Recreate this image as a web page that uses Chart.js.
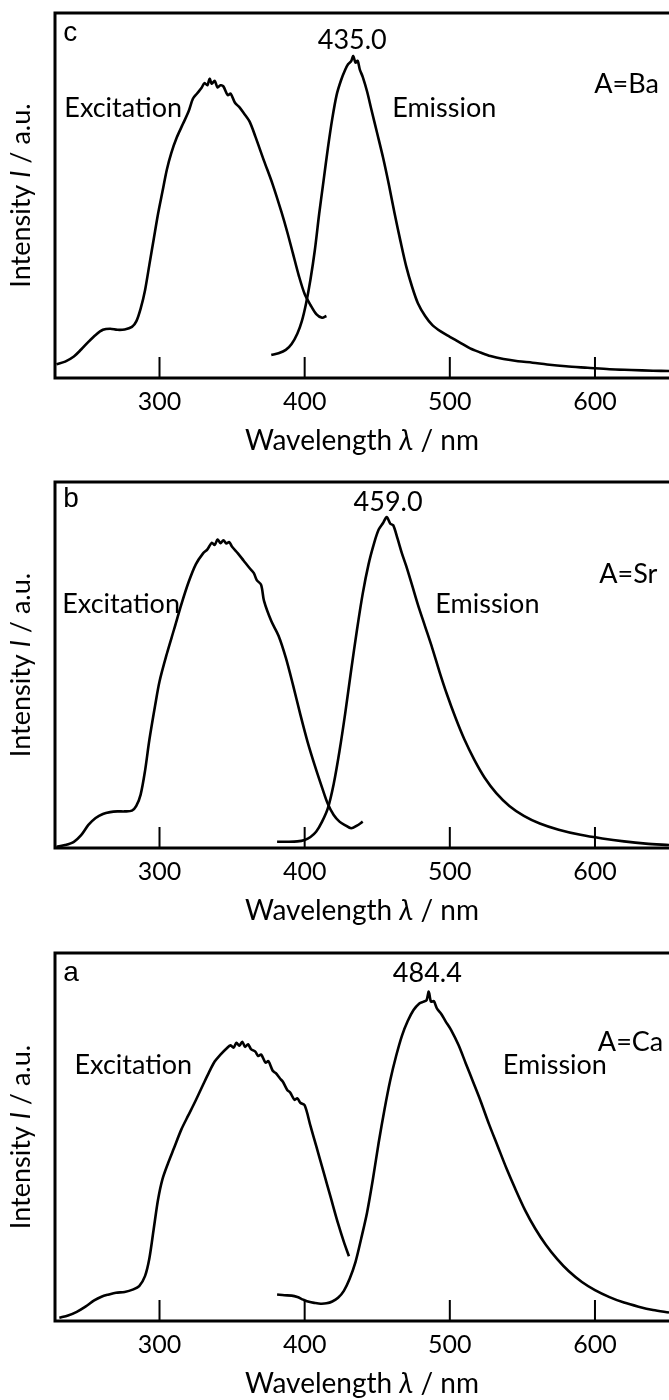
<!DOCTYPE html>
<html>
<head>
<meta charset="utf-8">
<title>Excitation and emission spectra</title>
<script src="https://cdn.jsdelivr.net/npm/chart.js@4/dist/chart.umd.min.js"></script>
<style>
  body { margin: 0; background: #fff; }
  canvas { display: block; }
</style>
</head>
<body>
<canvas id="panelC" width="669" height="470"></canvas>
<canvas id="panelB" width="669" height="470"></canvas>
<canvas id="panelA" width="669" height="460"></canvas>
<script>
// x axis ticks (nm)
const tickValues = [300, 400, 500, 600];

// A=Ba (panel c)
const baExcWl = [229, 235, 241, 246, 251, 256, 261, 266, 271, 276, 281, 284, 287, 290, 293, 296, 299, 302, 305, 308, 312, 316, 320, 323, 326, 329, 331, 333, 334.5, 336, 338, 340, 342, 344, 347, 349, 352, 355, 358, 362, 366, 372, 378, 384, 388, 392, 396, 400, 404, 408, 412, 415];
const baExcI = [3.8, 4.5, 5.9, 7.8, 9.9, 11.8, 13.2, 13.5, 13.2, 13.3, 14, 15.5, 19, 24, 31, 38, 45, 51, 57, 61.5, 66, 69.5, 73, 76.5, 78, 79.5, 80.8, 80.2, 82, 80.6, 81.4, 79.6, 80.2, 79.9, 77.5, 77.9, 75.4, 74.2, 72.6, 70.3, 66.2, 59.5, 53, 45.5, 40, 34, 28, 23, 20, 17.5, 16.5, 17];
const baEmWl = [377, 382, 387, 391, 395, 398, 401, 404, 407, 410, 413, 416, 419, 422, 425, 428, 430, 432, 433.5, 435, 436.5, 438, 440, 443, 446, 450, 454, 458, 462, 466, 470, 474, 478, 483, 488, 494, 500, 507, 514, 521, 528, 537, 547, 557, 567, 580, 595, 610, 625, 640, 651];
const baEmI = [6.3, 6.8, 7.7, 9.3, 12.2, 15.5, 20.5, 27, 35, 45, 54, 63, 71, 77.5, 81.5, 84.5, 86, 86.8, 88.2, 86.4, 86.9, 84.5, 82.5, 78.5, 73.5, 67, 60.4, 53, 45, 37.5, 30.5, 25, 20.5, 17, 14.5, 12.7, 11.3, 9.7, 8.1, 7, 6, 5.2, 4.6, 4.2, 3.7, 3.2, 2.8, 2.4, 2.2, 2, 1.9];

// A=Sr (panel b)
const srExcWl = [229, 235, 241, 246, 251, 256, 261, 266, 271, 276, 281, 284, 287, 290, 293, 297, 300, 305, 310, 315, 320, 325, 330, 333, 336, 338, 340, 342, 344, 346, 348, 350, 354, 358, 362, 365, 367, 370, 372, 377, 382, 387, 392, 397, 402, 407, 412, 416, 420, 424, 428, 432, 436, 440];
const srExcI = [0.3, 0.8, 1.7, 3.5, 6.3, 8.2, 9.3, 9.8, 10, 10, 10.2, 11.5, 14.6, 21, 29.5, 39, 45.5, 53, 59.7, 66.5, 72.6, 77.5, 80.5, 81.6, 83.4, 82.8, 84.3, 83.3, 84.1, 83.2, 83.6, 82.3, 80.5, 78.5, 76.5, 75.1, 73.2, 71.9, 67.5, 62, 58, 52, 44.5, 36.5, 29, 22.5, 16.5, 12, 9, 7.2, 6.2, 5.4, 6.1, 7.2];
const srEmWl = [381, 388, 395, 400, 404, 408, 412, 416, 420, 424, 428, 432, 436, 440, 444, 448, 451, 454, 456.5, 459, 461, 464, 467, 470, 474, 478, 483, 488, 493, 498, 504, 510, 517, 524, 532, 541, 551, 562, 575, 590, 605, 620, 635, 651];
const srEmI = [1.7, 1.7, 1.8, 2.2, 3, 4.5, 7.2, 10.9, 17.5, 26.5, 37, 48.5, 59.5, 69.5, 77.5, 83.5, 87, 88.8, 90.4, 88.6, 88.2, 84.5, 80.5, 77, 71.8, 66.5, 60.5, 54.5, 48, 42, 35.5, 29.7, 24, 19.2, 15, 11.5, 8.8, 6.7, 5, 3.6, 2.6, 1.8, 1.2, 0.8];

// A=Ca (panel a)
const caExcWl = [231, 237, 243, 249, 255, 260, 265, 270, 276, 282, 286, 290, 293, 296, 299, 302, 306, 310, 315, 320, 325, 330, 334, 338, 342, 346, 349, 351, 353, 355, 357, 359, 361, 363, 366, 368, 370, 373, 375, 378, 380, 383, 385, 388, 390, 393, 395, 397, 400, 404, 408, 413, 418, 423, 427, 430.5];
const caExcI = [0.9, 1.5, 2.5, 3.9, 5.6, 6.6, 7.2, 7.7, 7.9, 8.6, 9.5, 12.2, 17, 25, 33, 38.5, 43, 47, 52, 56, 60, 64.2, 67.5, 70.5, 72.4, 74, 74.9, 74.3, 75.6, 74.8, 75.9, 74.5, 75.2, 73.9, 73.2, 72, 72.4, 70.2, 70.6, 68, 67.4, 65.9, 65, 62.8, 62.1, 60.1, 60.5, 59.3, 58.6, 53, 47.5, 40.5, 33.5, 26.5, 21.5, 17.6];
const caEmWl = [381, 386, 391, 395, 399, 403, 407, 411, 415, 419, 423, 427, 431, 435, 439, 443, 447, 451, 455, 459, 463, 467, 471, 475, 479, 482, 484, 485.5, 487, 489, 491, 494, 497, 501, 506, 511, 516, 521, 527, 533, 539, 545, 552, 559, 566, 574, 582, 591, 600, 610, 620, 630, 640, 651];
const caEmI = [7.2, 7, 6.9, 6.5, 5.8, 5.2, 4.9, 4.7, 4.8, 5.3, 6.3, 8.2, 11.5, 16, 22.5, 29.5, 38.5, 48.5, 57.5, 65.5, 72, 77.5, 81.5, 84.5, 86.3, 86.8, 87.2, 89.5, 86.8, 86.9, 85, 83.5, 81.5, 79, 75, 70, 65, 60, 53.5, 47.5, 41.5, 36, 30, 25, 20.8, 16.8, 13.5, 10.6, 8.4, 6.5, 5, 3.9, 3, 2.3];

const FONT = 'Lato, "Noto Sans", sans-serif';

function toPoints(xs, ys) {
  return xs.map((x, i) => ({ x: x, y: ys[i] }));
}

// draws pieces of text with different styles one after another
function drawParts(ctx, parts, x, y, align) {
  let total = 0;
  parts.forEach(p => { ctx.font = p.font; total += ctx.measureText(p.text).width; });
  let cx = align === 'center' ? x - total / 2 : x;
  parts.forEach(p => {
    ctx.font = p.font;
    ctx.fillText(p.text, cx, y);
    cx += ctx.measureText(p.text).width;
  });
}

const framePlugin = {
  id: 'frame',
  afterDraw(chart) {
    const ctx = chart.ctx;
    const a = chart.chartArea;
    const x = chart.scales.x;
    const y = chart.scales.y;
    ctx.save();
    ctx.strokeStyle = '#000';
    ctx.lineWidth = 3;
    ctx.beginPath();
    ctx.moveTo(a.right + 2, a.top);
    ctx.lineTo(a.left, a.top);
    ctx.lineTo(a.left, a.bottom);
    ctx.lineTo(a.right + 2, a.bottom);
    ctx.stroke();

    // ticks point inward
    ctx.lineWidth = 2;
    ctx.beginPath();
    tickValues.forEach(v => {
      const px = x.getPixelForValue(v);
      ctx.moveTo(px, a.bottom);
      ctx.lineTo(px, a.bottom - 21);
    });
    ctx.stroke();

    ctx.fillStyle = '#000';
    ctx.textBaseline = 'alphabetic';
    chart.options.plugins.frame.notes.forEach(n => {
      ctx.font = n.font || '27px ' + FONT;
      ctx.textAlign = n.align || 'left';
      ctx.fillText(n.text, x.getPixelForValue(n.x), y.getPixelForValue(n.y));
    });

    ctx.textAlign = 'left';
    drawParts(ctx, [
      { text: 'Wavelength ', font: '28px ' + FONT },
      { text: 'λ', font: 'italic 28px ' + FONT },
      { text: ' / nm', font: '28px ' + FONT }
    ], (a.left + a.right) / 2, a.bottom + 72, 'center');

    ctx.translate(30, (a.top + a.bottom) / 2);
    ctx.rotate(-Math.PI / 2);
    drawParts(ctx, [
      { text: 'Intensity ', font: '27px ' + FONT },
      { text: 'I', font: 'italic 27px ' + FONT },
      { text: ' / a.u.', font: '27px ' + FONT }
    ], 0, 0, 'center');
    ctx.restore();
  }
};

function makePanel(id, excWl, excI, emWl, emI, notes, padTop, padBottom) {
  const ctx = document.getElementById(id).getContext('2d');
  return new Chart(ctx, {
    type: 'line',
    data: {
      datasets: [
        { label: 'Excitation', data: toPoints(excWl, excI) },
        { label: 'Emission', data: toPoints(emWl, emI) }
      ]
    },
    options: {
      responsive: false,
      animation: false,
      devicePixelRatio: 1,
      layout: { padding: { left: 55, right: 0, top: padTop, bottom: padBottom } },
      elements: {
        point: { radius: 0 },
        line: { borderColor: '#000', borderWidth: 2.6, tension: 0.3, fill: false }
      },
      scales: {
        x: {
          type: 'linear',
          min: 228,
          max: 651,
          afterBuildTicks: scale => { scale.ticks = tickValues.map(v => ({ value: v })); },
          grid: { display: false, drawTicks: false },
          border: { display: false },
          ticks: { color: '#000', padding: 9, font: { family: FONT, size: 25 } }
        },
        y: { display: false, min: 0, max: 100 }
      },
      plugins: {
        legend: { display: false },
        tooltip: { enabled: false },
        frame: { notes: notes }
      }
    },
    plugins: [framePlugin]
  });
}

const letterFont = '28px "Liberation Sans", Arial, sans-serif';

makePanel('panelC', baExcWl, baExcI, baEmWl, baEmI, [
  { text: 'c', x: 233.7, y: 92.4, font: letterFont },
  { text: '435.0', x: 432.8, y: 90.2, align: 'center' },
  { text: 'Excitation', x: 234.4, y: 71.6 },
  { text: 'Emission', x: 460.3, y: 71.6 },
  { text: 'A=Ba', x: 599.5, y: 78 }
], 13, 44);

makePanel('panelB', srExcWl, srExcI, srEmWl, srEmI, [
  { text: 'b', x: 233.7, y: 93.2, font: letterFont },
  { text: '459.0', x: 457.5, y: 92.1, align: 'center' },
  { text: 'Excitation', x: 233, y: 64.3 },
  { text: 'Emission', x: 490, y: 64.3 },
  { text: 'A=Sr', x: 603, y: 72.4 }
], 12, 44);

makePanel('panelA', caExcWl, caExcI, caEmWl, caEmI, [
  { text: 'a', x: 233.7, y: 92.4, font: letterFont },
  { text: '484.4', x: 484.5, y: 92.1, align: 'center' },
  { text: 'Excitation', x: 241.4, y: 67.2 },
  { text: 'Emission', x: 536.5, y: 67.2 },
  { text: 'A=Ca', x: 602, y: 73.4 }
], 13, 31);
</script>
</body>
</html>
